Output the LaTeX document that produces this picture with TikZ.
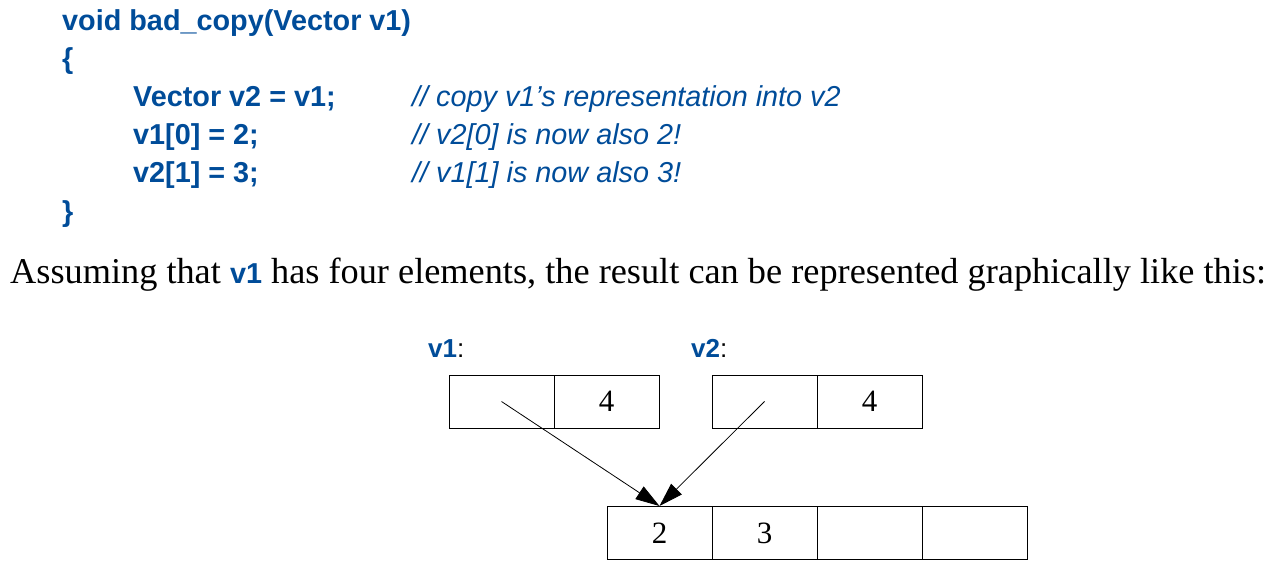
\documentclass[tikz,border=0pt]{standalone}
\usepackage{fontspec}
\setmainfont{Liberation Serif}
\setsansfont{Liberation Sans}
\usetikzlibrary{arrows.meta}
\definecolor{codeblue}{RGB}{0,76,153}
\begin{document}
\begin{tikzpicture}[x=1pt,y=-1pt,
  code/.style={anchor=base west,inner sep=0pt,text=codeblue,font=\fontsize{28.8}{30}\sffamily\bfseries},
  comment/.style={anchor=base west,inner sep=0pt,text=codeblue,font=\fontsize{28.8}{30}\sffamily\itshape},
  prose/.style={anchor=base west,inner sep=0pt,font=\fontsize{36.3}{40}\rmfamily},
  lbl/.style={anchor=base west,inner sep=0pt,font=\fontsize{26}{28}\sffamily},
  cell/.style={draw,line width=1pt,minimum width=105pt,minimum height=53pt,inner sep=0pt,font=\fontsize{31}{33}\rmfamily},
  ptr/.style={line width=0.8pt,-{Triangle[length=24pt,width=15pt]}}]
\useasboundingbox (0,0) rectangle (1280,570);
\node[code] (l1) at (62,30) {void bad\_copy(Vector v1)};
\node[code] (l2) at (62,68) {\{};
\node[code] (l3) at (133,106) {Vector v2 = v1;};
\node[comment] (c3) at (412,106) {// copy v1’s representation into v2};
\node[code] (l4) at (133,144) {v1[0] = 2;};
\node[comment] (c4) at (412,144) {// v2[0] is now also 2!};
\node[code] (l5) at (133,182) {v2[1] = 3;};
\node[comment] (c5) at (412,182) {// v1[1] is now also 3!};
\node[code] (l6) at (62,221) {\}};
\node[prose] (txt) at (10,283) {Assuming that {\sffamily\bfseries\color{codeblue}\fontsize{28.8}{30}\selectfont v1} has four elements, the result can be represented graphically like this:};
\node[lbl] (lv1) at (428,357) {{\bfseries\color{codeblue}v1}:};
\node[lbl] (lv2) at (691,357) {{\bfseries\color{codeblue}v2}:};
\node[cell] (v1a) at (501.5,401.5) {};
\node[cell] (v1b) at (606.5,401.5) {4};
\node[cell] (v2a) at (764.5,401.5) {};
\node[cell] (v2b) at (869.5,401.5) {4};
\node[cell] (b1) at (659.5,533) {2};
\node[cell] (b2) at (764.5,533) {3};
\node[cell] (b3) at (869.5,533) {};
\node[cell] (b4) at (974.5,533) {};
\draw[ptr] (v1a.center) -- (b1.north);
\draw[ptr] (v2a.center) -- (b1.north);
\end{tikzpicture}
\end{document}
